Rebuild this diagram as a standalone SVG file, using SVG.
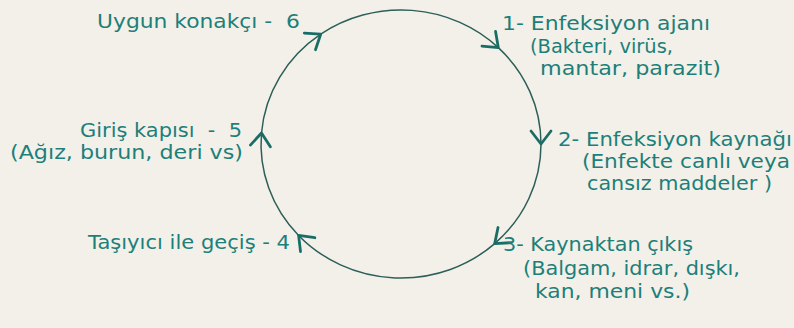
<svg xmlns="http://www.w3.org/2000/svg" width="794" height="328" viewBox="0 0 794 328">
<style>
.t{font-family:"DejaVu Sans","Liberation Sans",sans-serif;font-size:19.5px;fill:#1c7f7a;white-space:pre}
.arc{fill:none;stroke:#2c5f59;stroke-width:1.5;marker-end:url(#ah)}
</style>
<defs>
<marker id="ah" markerUnits="userSpaceOnUse" viewBox="-16 -12 18 24" markerWidth="18" markerHeight="24" refX="0" refY="0" orient="auto" overflow="visible">
<path d="M-13,-10 L0,0 L-13,10" fill="none" stroke="#1a6d66" stroke-width="2.8" stroke-linecap="round" stroke-linejoin="round"/>
</marker>
</defs>
<rect width="794" height="328" fill="#f3f0e9"/>
<g id="connectors">
<path class="arc" d="M320.7,34.2 A140,134 0 0 1 498.3,47.6"/>
<path class="arc" d="M498.3,47.6 A140,134 0 0 1 541,144"/>
<path class="arc" d="M541,144 A140,134 0 0 1 494.7,243.6"/>
<path class="arc" d="M494.7,243.6 A140,134 0 0 1 298.6,235.4"/>
<path class="arc" d="M298.6,235.4 A140,134 0 0 1 261.5,133"/>
<path class="arc" d="M261.5,133 A140,134 0 0 1 320.7,34.2"/>
</g>
<g id="node1">
<text class="t" x="502" y="30" textLength="208" lengthAdjust="spacingAndGlyphs">1- Enfeksiyon ajanı</text>
<text class="t" x="530" y="53" textLength="143" lengthAdjust="spacingAndGlyphs">(Bakteri, virüs,</text>
<text class="t" x="540" y="75" textLength="181" lengthAdjust="spacingAndGlyphs">mantar, parazit)</text>
</g>
<g id="node2">
<text class="t" x="558" y="146" textLength="234" lengthAdjust="spacingAndGlyphs">2- Enfeksiyon kaynağı</text>
<text class="t" x="582" y="168" textLength="208" lengthAdjust="spacingAndGlyphs">(Enfekte canlı veya</text>
<text class="t" x="587" y="190" textLength="185" lengthAdjust="spacingAndGlyphs">cansız maddeler )</text>
</g>
<g id="node3">
<text class="t" x="503" y="251" textLength="190" lengthAdjust="spacingAndGlyphs">3- Kaynaktan çıkış</text>
<text class="t" x="523" y="275" textLength="217" lengthAdjust="spacingAndGlyphs">(Balgam, idrar, dışkı,</text>
<text class="t" x="535" y="298" textLength="155" lengthAdjust="spacingAndGlyphs">kan, meni vs.)</text>
</g>
<g id="node4">
<text class="t" x="88" y="249" textLength="202" lengthAdjust="spacingAndGlyphs">Taşıyıcı ile geçiş - 4</text>
</g>
<g id="node5">
<text class="t" x="80" y="137" textLength="162" lengthAdjust="spacingAndGlyphs">Giriş kapısı  -  5</text>
<text class="t" x="10" y="159" textLength="233" lengthAdjust="spacingAndGlyphs">(Ağız, burun, deri vs)</text>
</g>
<g id="node6">
<text class="t" x="97" y="28" textLength="203" lengthAdjust="spacingAndGlyphs">Uygun konakçı -  6</text>
</g>
</svg>
